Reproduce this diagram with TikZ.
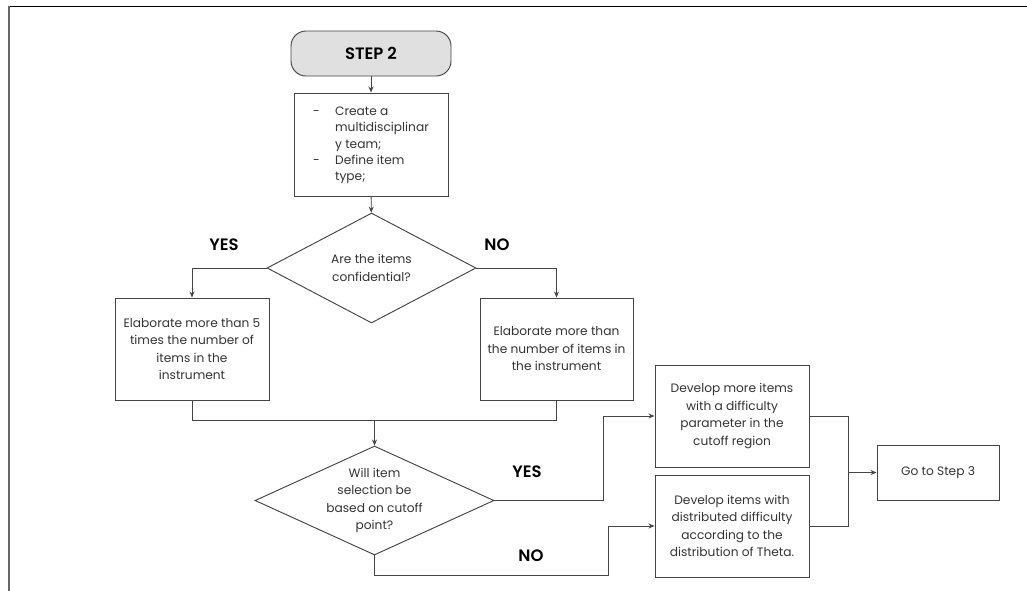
\documentclass[tikz,border=0pt]{standalone}
\usepackage{fontspec}
\setmainfont{Poppins}
\newfontfamily\headfont{Poppins SemiBold}
\usetikzlibrary{shapes.geometric,arrows.meta}
\definecolor{ink}{HTML}{333333}
\definecolor{edge}{HTML}{454545}
\definecolor{stepfill}{HTML}{E0E0E0}
\tikzset{
  every node/.style={text=ink},
  body/.style={font=\fontsize{12.2}{17.5}\selectfont},
  box/.style={draw=edge, line width=0.95pt, rectangle, align=center, inner sep=0pt, body},
  startbox/.style={draw=edge, line width=0.95pt, rectangle, rounded corners=15pt, fill=stepfill,
    minimum width=160pt, minimum height=45pt, font=\headfont\fontsize{16.5}{18}\selectfont, text=black},
  diam/.style={draw=edge, line width=0.95pt, diamond, inner sep=0pt},
  dtext/.style={align=center, body},
  answer/.style={font=\headfont\fontsize{16.5}{18}\selectfont, text=black},
  link/.style={draw=edge, line width=0.95pt},
  arr/.style={link, -{Stealth[length=6pt,width=5pt]}},
}
\begin{document}
\begin{tikzpicture}[x=1pt,y=-1pt]
\useasboundingbox (0,0) rectangle (1027,590);
% outer frame (top and left edges)
\draw[black, line width=1.6pt] (8,6.5) -- (1030,6.5);
\draw[black!60, line width=1.8pt] (8.7,6) -- (8.7,595);

% nodes
\node[startbox] (s2) at (371,53.5) {STEP 2};
\node[box, minimum width=154pt, minimum height=103pt] (b1) at (371,144.5) {%
  \begin{tabular}{@{}p{22pt}@{}l@{}}
  - & Create a\\[-1.2pt]
    & multidisciplinar\\[-1.2pt]
    & y team;\\[-1.2pt]
  - & Define item\\[-1.2pt]
    & type;
  \end{tabular}};
\node[diam, minimum width=209pt, minimum height=110pt] (d1) at (371.5,268) {};
\node[dtext] at (d1) {Are the items\\confidential?};

\node[box, minimum width=154pt, minimum height=102pt] (b3) at (192,349) {%
  Elaborate more than 5\\times the number of\\items in the\\instrument};
\node[box, minimum width=153pt, minimum height=102pt] (b4) at (556.5,349) {%
  \raisebox{6pt}{\parbox{150pt}{\centering Elaborate more than\\the number of items in\\the instrument}}};

\node[diam, minimum width=239pt, minimum height=109pt] (d2) at (374.5,500.5) {};
\node[dtext] at (d2) {Will item\\selection be\\based on cutoff\\point?};

\node[box, minimum width=154pt, minimum height=102pt] (b5) at (732,416) {%
  Develop more items\\with a difficulty\\parameter in the\\cutoff region};
\node[box, minimum width=154pt, minimum height=102pt] (b6) at (732,526) {%
  Develop items with\\distributed difficulty\\according to the\\distribution of Theta.};
\node[box, minimum width=122pt, minimum height=55pt] (go) at (938,472.5) {Go to Step 3};

% answer labels
\node[answer] (yes1) at (224,245) {YES};
\node[answer] (no1) at (497,245) {NO};
\node[answer] (yes2) at (527,472) {YES};
\node[answer] (no2) at (531,556) {NO};

% connectors
\draw[arr] (s2) -- (b1);
\draw[arr] (b1) -- (d1);
\draw[arr] (d1.west) -| (b3.north);
\draw[arr] (d1.east) -| (b4.north);
\coordinate (jn) at (374.5,420);
\draw[link] (b3.south) |- (jn) -| (b4.south);
\draw[arr] (jn) -- (d2.north);
\coordinate (yturn) at (603,500.5);
\draw[arr] (d2.east) -- (yturn) |- (b5.west);
\coordinate (nlow) at (374.5,575);
\coordinate (nturn) at (608,575);
\draw[arr] (d2.south) -- (nlow) -- (nturn) |- (b6.west);
\coordinate (mr) at (848,472.5);
\draw[link] (b5.east) -| (mr) |- (b6.east);
\draw[arr] (mr) -- (go.west);
\end{tikzpicture}
\end{document}
